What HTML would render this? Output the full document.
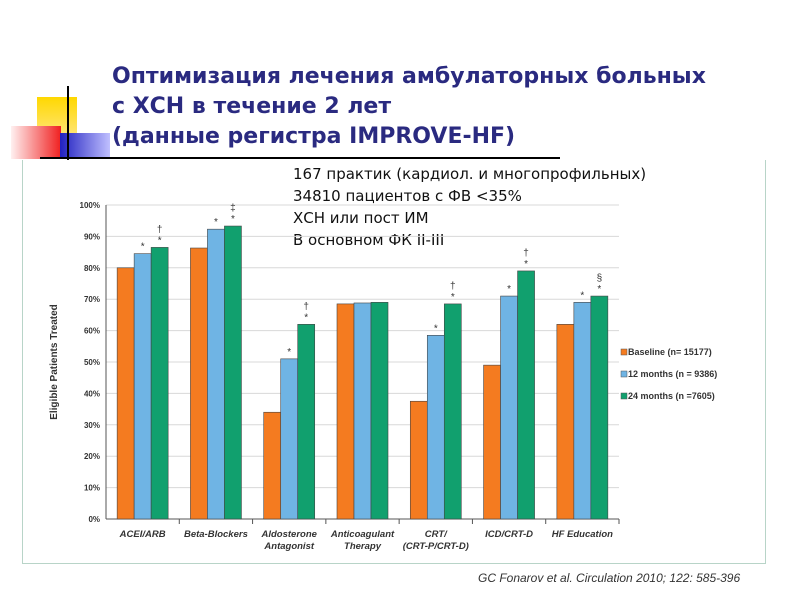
<!DOCTYPE html>
<html><head><meta charset="utf-8"><style>
body{margin:0;width:800px;height:600px;background:#fff;position:relative;overflow:hidden;font-family:"Liberation Sans","Noto Sans CJK SC",sans-serif}
.abs{position:absolute}
</style></head><body>
<div class="abs" style="left:37px;top:97px;width:40px;height:42px;background:linear-gradient(#ffd800,#ffe680)"></div>
<div class="abs" style="left:11px;top:126px;width:50px;height:33px;background:linear-gradient(90deg,#fff0f0,#f02020)"></div>
<div class="abs" style="left:60px;top:133px;width:50px;height:26px;background:linear-gradient(90deg,#2020c0,#c0c0ff)"></div>
<div class="abs" style="left:67px;top:86px;width:2px;height:74px;background:#000"></div>
<div class="abs" style="left:40px;top:157px;width:520px;height:2px;background:#000"></div>
<div class="abs" style="left:112px;top:62px;font-size:22px;font-weight:bold;color:#2a2a80;line-height:30px;font-family:'DejaVu Sans','Liberation Sans',sans-serif">Оптимизация лечения амбулаторных больных<br>с ХСН в течение 2 лет<br>(данные регистра IMPROVE-HF)</div>
<div class="abs" style="left:22px;top:160px;width:742px;height:403px;border:1px solid #b8d4c8;border-top:none"></div>
<div class="abs" style="left:293px;top:163px;font-size:15px;line-height:22px;color:#111;font-family:'DejaVu Sans',sans-serif">167 практик (кардиол. и многопрофильных)<br>34810 пациентов с ФВ &lt;35%<br>ХСН или пост ИМ<br>В основном ФК II-III</div>
<svg class="abs" style="left:0;top:0" width="800" height="600" id="chart"></svg>
<div class="abs" style="left:478px;top:571px;font-size:12px;font-style:italic;color:#333">GC Fonarov et al. Circulation 2010; 122: 585-396</div>
<script>
const categories=["ACEI/ARB","Beta-Blockers","Aldosterone|Antagonist","Anticoagulant|Therapy","CRT/|(CRT-P/CRT-D)","ICD/CRT-D","HF Education"];
const baseline=[80,86.3,34,68.5,37.5,49,62];
const m12=[84.5,92.3,51,68.8,58.5,71,69];
const m24=[86.5,93.3,62,69,68.5,79,71];
const marks12=["*","*","*","","*","*","*"];
const marks24=["†|*","‡|*","†|*","","†|*","†|*","§|*"];
const yTicks=[0,10,20,30,40,50,60,70,80,90,100];
const seriesNames=["Baseline (n= 15177)","12 months (n = 9386)","24 months (n =7605)"];
const colors=["#f47b20","#6fb4e4","#11a06e"];
const svg=document.getElementById('chart');const NS="http://www.w3.org/2000/svg";
const X0=106,X1=619,Y0=519,Y1=205;
const y=v=>Y0-(v/100)*(Y0-Y1);
const gw=(X1-X0)/categories.length;
const gx=i=>X0+gw*(i+0.5);
function mk(t,a,txt){const e=document.createElementNS(NS,t);for(const k in a)e.setAttribute(k,a[k]);if(txt!==undefined)e.textContent=txt;svg.appendChild(e);return e;}
yTicks.forEach(t=>{
 const g=mk('line',{x1:X0,x2:X1,y1:y(t),y2:y(t),stroke:'#d8d8d8','stroke-width':1});
 
 
 const l=mk('text',{x:X0-6,y:y(t)+3,'text-anchor':'end','font-size':8,'font-weight':'bold',fill:'#333'},t+'%');
 
 
});
const ax=mk('line',{x1:X0,x2:X0,y1:Y1,y2:Y0,stroke:'#555'});


const bx=mk('line',{x1:X0,x2:X1,y1:Y0,y2:Y0,stroke:'#555'});


const yt=mk('text',{x:0,y:0,transform:`translate(57,${(Y0+Y1)/2}) rotate(-90)`,'text-anchor':'middle','font-size':10,'font-weight':'bold',fill:'#333'},'Eligible Patients Treated');


const bw=17;
const series=[baseline,m12,m24];
categories.forEach((c,i)=>{
 const tk=mk('line',{x1:X0+gw*(i+1),x2:X0+gw*(i+1),y1:Y0,y2:Y0+5,stroke:'#555'});
 
 
 series.forEach((s,j)=>{
  const bxp=gx(i)+(j-1.5)*bw;
  const r=mk('rect',{x:bxp,y:y(s[i]),width:bw,height:Y0-y(s[i]),fill:colors[j],stroke:'#444','stroke-width':0.6});
  
  
 });
 const m1=marks12[i];
 if(m1){const t=mk('text',{x:gx(i),y:y(m12[i])-4,'text-anchor':'middle','font-size':10,fill:'#333'},m1);
  
  }
 const m2=marks24[i];
 if(m2){m2.split('|').forEach((s,k,arr)=>{const t=mk('text',{x:gx(i)+bw,y:y(m24[i])-4-(arr.length-1-k)*11,'text-anchor':'middle','font-size':10,fill:'#333'},s);
  
  });}
 c.split('|').forEach((ln,k)=>{const t=mk('text',{x:gx(i),y:537+k*12,'text-anchor':'middle','font-size':9.5,'font-weight':'bold','font-style':'italic',fill:'#333'},ln);
  
  });
});
seriesNames.forEach((n,j)=>{
 const r=mk('rect',{x:621,y:349+j*22,width:6,height:6,fill:colors[j],stroke:'#555','stroke-width':0.5});
 
 
 const t=mk('text',{x:628,y:355+j*22,'font-size':9,'font-weight':'bold',fill:'#333'},n);
 
 
});
</script>
</body></html>
